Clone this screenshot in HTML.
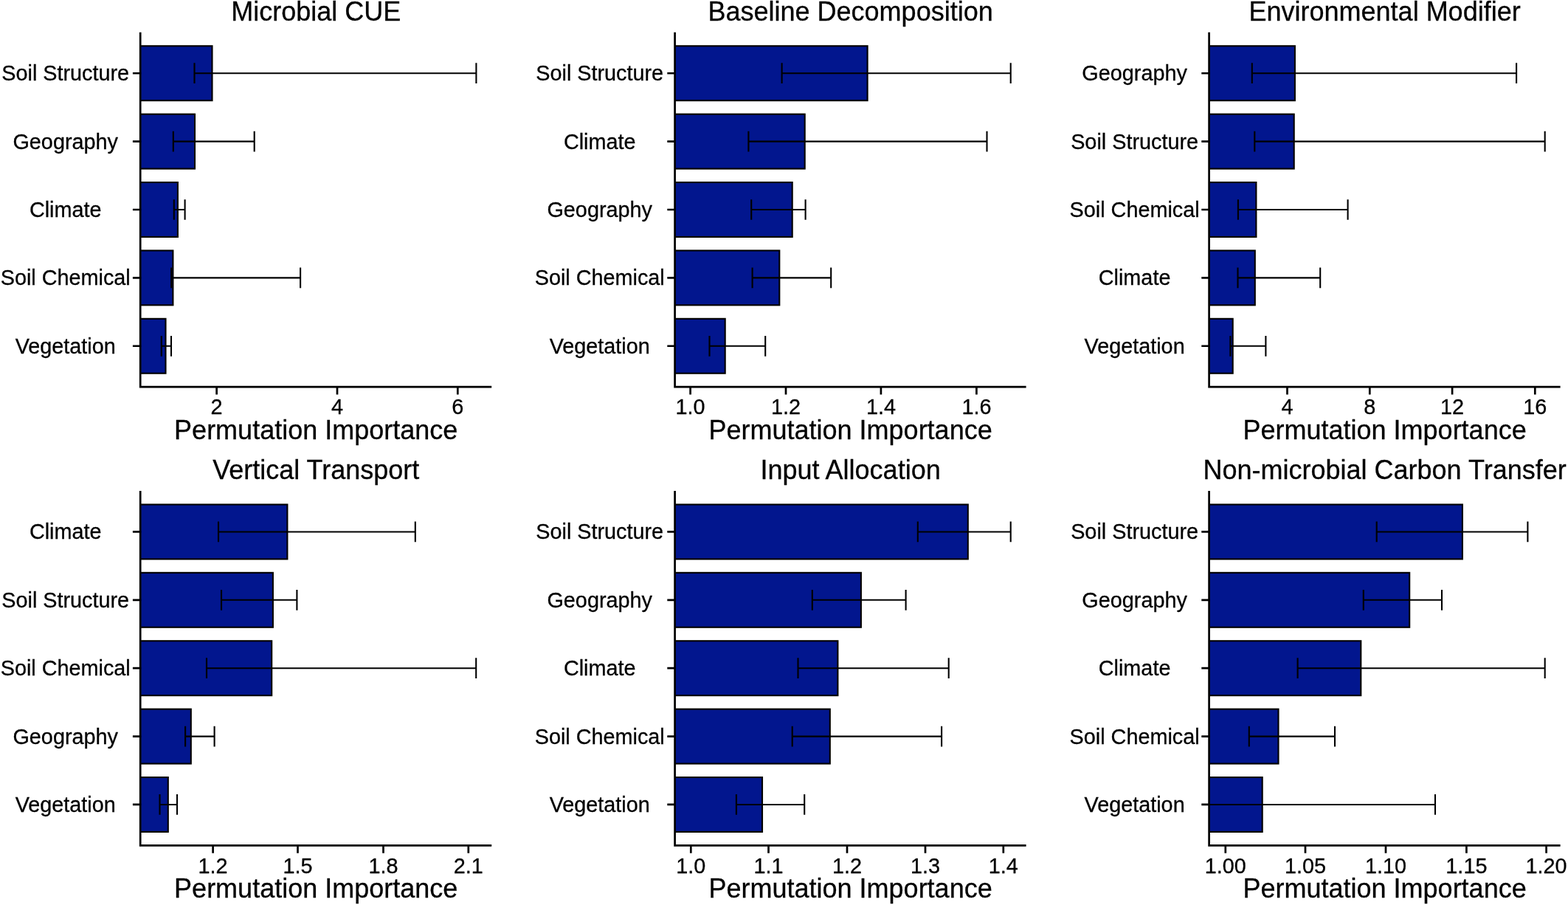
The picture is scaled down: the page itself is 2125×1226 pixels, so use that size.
<!DOCTYPE html>
<html><head><meta charset="utf-8"><title>Permutation Importance</title>
<style>
html,body{margin:0;padding:0;background:#fff;}
body{width:2125px;height:1226px;overflow:hidden;}
svg{display:block;}
text{font-family:"Liberation Sans",Arial,Helvetica,sans-serif;fill:#000;stroke:#000;stroke-width:0.3px;}
.t{font-size:36px;text-anchor:middle;}
.a{font-size:28.8px;text-anchor:middle;}
.k{font-size:28.8px;text-anchor:middle;}
</style></head><body>
<svg width="2125" height="1226" viewBox="0 0 2125 1226">
<rect x="0" y="0" width="2125" height="1226" fill="#fff"/>
<defs>
<clipPath id="c0"><rect x="190.2" y="43.8" width="476" height="480.4"/></clipPath>
<clipPath id="c1"><rect x="914.6" y="43.8" width="476" height="480.4"/></clipPath>
<clipPath id="c2"><rect x="1638.6" y="43.8" width="476" height="480.4"/></clipPath>
<clipPath id="c3"><rect x="190.2" y="665" width="476" height="480.4"/></clipPath>
<clipPath id="c4"><rect x="914.6" y="665" width="476" height="480.4"/></clipPath>
<clipPath id="c5"><rect x="1638.6" y="665" width="476" height="480.4"/></clipPath>
</defs>
<g>
<g clip-path="url(#c0)">
<rect x="186.2" y="62.28" width="101.3" height="73.91" fill="#02168E" stroke="#000" stroke-width="2.1"/>
<rect x="186.2" y="154.66" width="77.8" height="73.91" fill="#02168E" stroke="#000" stroke-width="2.1"/>
<rect x="186.2" y="247.05" width="54.7" height="73.91" fill="#02168E" stroke="#000" stroke-width="2.1"/>
<rect x="186.2" y="339.43" width="48.2" height="73.91" fill="#02168E" stroke="#000" stroke-width="2.1"/>
<rect x="186.2" y="431.82" width="38.3" height="73.91" fill="#02168E" stroke="#000" stroke-width="2.1"/>
<path d="M263.5 99.23H645.4M263.5 85.37V113.09M645.4 85.37V113.09" fill="none" stroke="#000" stroke-width="2.1"/>
<path d="M234.8 191.62H344.7M234.8 177.76V205.47M344.7 177.76V205.47" fill="none" stroke="#000" stroke-width="2.1"/>
<path d="M235.8 284H250.6M235.8 270.14V297.86M250.6 270.14V297.86" fill="none" stroke="#000" stroke-width="2.1"/>
<path d="M232.2 376.38H407.1M232.2 362.53V390.24M407.1 362.53V390.24" fill="none" stroke="#000" stroke-width="2.1"/>
<path d="M218.8 468.77H232M218.8 454.91V482.63M232 454.91V482.63" fill="none" stroke="#000" stroke-width="2.1"/>
</g>
<path d="M190.2 43.8V524.2H666.2" fill="none" stroke="#000" stroke-width="2.7" stroke-linejoin="miter" stroke-linecap="butt"/>
<path d="M179.9 99.23H190.2M179.9 191.62H190.2M179.9 284H190.2M179.9 376.38H190.2M179.9 468.77H190.2M293.6 524.2V534.5M457 524.2V534.5M620.3 524.2V534.5" fill="none" stroke="#000" stroke-width="2.7"/>
<text class="a" x="88.7" y="109.23">Soil Structure</text>
<text class="a" x="88.7" y="201.62">Geography</text>
<text class="a" x="88.7" y="294">Climate</text>
<text class="a" x="88.7" y="386.38">Soil Chemical</text>
<text class="a" x="88.7" y="478.77">Vegetation</text>
<text class="k" x="293.6" y="561.3">2</text>
<text class="k" x="457" y="561.3">4</text>
<text class="k" x="620.3" y="561.3">6</text>
<text class="t" x="428.2" y="594.6">Permutation Importance</text>
<text class="t" x="428.2" y="27.6">Microbial CUE</text>
</g>
<g>
<g clip-path="url(#c1)">
<rect x="910.6" y="62.28" width="265" height="73.91" fill="#02168E" stroke="#000" stroke-width="2.1"/>
<rect x="910.6" y="154.66" width="180.1" height="73.91" fill="#02168E" stroke="#000" stroke-width="2.1"/>
<rect x="910.6" y="247.05" width="163.1" height="73.91" fill="#02168E" stroke="#000" stroke-width="2.1"/>
<rect x="910.6" y="339.43" width="145.7" height="73.91" fill="#02168E" stroke="#000" stroke-width="2.1"/>
<rect x="910.6" y="431.82" width="72.1" height="73.91" fill="#02168E" stroke="#000" stroke-width="2.1"/>
<path d="M1059.6 99.23H1369.7M1059.6 85.37V113.09M1369.7 85.37V113.09" fill="none" stroke="#000" stroke-width="2.1"/>
<path d="M1014.4 191.62H1337.5M1014.4 177.76V205.47M1337.5 177.76V205.47" fill="none" stroke="#000" stroke-width="2.1"/>
<path d="M1018.2 284H1091.6M1018.2 270.14V297.86M1091.6 270.14V297.86" fill="none" stroke="#000" stroke-width="2.1"/>
<path d="M1019.6 376.38H1126.2M1019.6 362.53V390.24M1126.2 362.53V390.24" fill="none" stroke="#000" stroke-width="2.1"/>
<path d="M961.5 468.77H1037.2M961.5 454.91V482.63M1037.2 454.91V482.63" fill="none" stroke="#000" stroke-width="2.1"/>
</g>
<path d="M914.6 43.8V524.2H1390.6" fill="none" stroke="#000" stroke-width="2.7" stroke-linejoin="miter" stroke-linecap="butt"/>
<path d="M904.3 99.23H914.6M904.3 191.62H914.6M904.3 284H914.6M904.3 376.38H914.6M904.3 468.77H914.6M935.6 524.2V534.5M1065 524.2V534.5M1193.9 524.2V534.5M1323.4 524.2V534.5" fill="none" stroke="#000" stroke-width="2.7"/>
<text class="a" x="812.7" y="109.23">Soil Structure</text>
<text class="a" x="812.7" y="201.62">Climate</text>
<text class="a" x="812.7" y="294">Geography</text>
<text class="a" x="812.7" y="386.38">Soil Chemical</text>
<text class="a" x="812.7" y="478.77">Vegetation</text>
<text class="k" x="935.6" y="561.3">1.0</text>
<text class="k" x="1065" y="561.3">1.2</text>
<text class="k" x="1193.9" y="561.3">1.4</text>
<text class="k" x="1323.4" y="561.3">1.6</text>
<text class="t" x="1152.6" y="594.6">Permutation Importance</text>
<text class="t" x="1152.6" y="27.6">Baseline Decomposition</text>
</g>
<g>
<g clip-path="url(#c2)">
<rect x="1634.6" y="62.28" width="120.3" height="73.91" fill="#02168E" stroke="#000" stroke-width="2.1"/>
<rect x="1634.6" y="154.66" width="119.1" height="73.91" fill="#02168E" stroke="#000" stroke-width="2.1"/>
<rect x="1634.6" y="247.05" width="67.8" height="73.91" fill="#02168E" stroke="#000" stroke-width="2.1"/>
<rect x="1634.6" y="339.43" width="66.2" height="73.91" fill="#02168E" stroke="#000" stroke-width="2.1"/>
<rect x="1634.6" y="431.82" width="36.1" height="73.91" fill="#02168E" stroke="#000" stroke-width="2.1"/>
<path d="M1696.8 99.23H2055.1M1696.8 85.37V113.09M2055.1 85.37V113.09" fill="none" stroke="#000" stroke-width="2.1"/>
<path d="M1700.3 191.62H2093.7M1700.3 177.76V205.47M2093.7 177.76V205.47" fill="none" stroke="#000" stroke-width="2.1"/>
<path d="M1677.9 284H1826.6M1677.9 270.14V297.86M1826.6 270.14V297.86" fill="none" stroke="#000" stroke-width="2.1"/>
<path d="M1677.5 376.38H1789.2M1677.5 362.53V390.24M1789.2 362.53V390.24" fill="none" stroke="#000" stroke-width="2.1"/>
<path d="M1667.4 468.77H1715.4M1667.4 454.91V482.63M1715.4 454.91V482.63" fill="none" stroke="#000" stroke-width="2.1"/>
</g>
<path d="M1638.6 43.8V524.2H2114.6" fill="none" stroke="#000" stroke-width="2.7" stroke-linejoin="miter" stroke-linecap="butt"/>
<path d="M1628.3 99.23H1638.6M1628.3 191.62H1638.6M1628.3 284H1638.6M1628.3 376.38H1638.6M1628.3 468.77H1638.6M1744.5 524.2V534.5M1856.3 524.2V534.5M1968.1 524.2V534.5M2080.3 524.2V534.5" fill="none" stroke="#000" stroke-width="2.7"/>
<text class="a" x="1537.6" y="109.23">Geography</text>
<text class="a" x="1537.6" y="201.62">Soil Structure</text>
<text class="a" x="1537.6" y="294">Soil Chemical</text>
<text class="a" x="1537.6" y="386.38">Climate</text>
<text class="a" x="1537.6" y="478.77">Vegetation</text>
<text class="k" x="1744.5" y="561.3">4</text>
<text class="k" x="1856.3" y="561.3">8</text>
<text class="k" x="1968.1" y="561.3">12</text>
<text class="k" x="2080.3" y="561.3">16</text>
<text class="t" x="1876.6" y="594.6">Permutation Importance</text>
<text class="t" x="1876.6" y="27.6">Environmental Modifier</text>
</g>
<g>
<g clip-path="url(#c3)">
<rect x="186.2" y="683.48" width="203.2" height="73.91" fill="#02168E" stroke="#000" stroke-width="2.1"/>
<rect x="186.2" y="775.86" width="183.7" height="73.91" fill="#02168E" stroke="#000" stroke-width="2.1"/>
<rect x="186.2" y="868.25" width="182" height="73.91" fill="#02168E" stroke="#000" stroke-width="2.1"/>
<rect x="186.2" y="960.63" width="72.6" height="73.91" fill="#02168E" stroke="#000" stroke-width="2.1"/>
<rect x="186.2" y="1053.02" width="41.6" height="73.91" fill="#02168E" stroke="#000" stroke-width="2.1"/>
<path d="M296 720.43H562.8M296 706.57V734.29M562.8 706.57V734.29" fill="none" stroke="#000" stroke-width="2.1"/>
<path d="M300 812.82H402.4M300 798.96V826.67M402.4 798.96V826.67" fill="none" stroke="#000" stroke-width="2.1"/>
<path d="M280 905.2H645.2M280 891.34V919.06M645.2 891.34V919.06" fill="none" stroke="#000" stroke-width="2.1"/>
<path d="M251.1 997.58H290.6M251.1 983.73V1011.44M290.6 983.73V1011.44" fill="none" stroke="#000" stroke-width="2.1"/>
<path d="M216.5 1089.97H240M216.5 1076.11V1103.83M240 1076.11V1103.83" fill="none" stroke="#000" stroke-width="2.1"/>
</g>
<path d="M190.2 665V1145.4H666.2" fill="none" stroke="#000" stroke-width="2.7" stroke-linejoin="miter" stroke-linecap="butt"/>
<path d="M179.9 720.43H190.2M179.9 812.82H190.2M179.9 905.2H190.2M179.9 997.58H190.2M179.9 1089.97H190.2M288.6 1145.4V1155.7M403.5 1145.4V1155.7M519.5 1145.4V1155.7M634.8 1145.4V1155.7" fill="none" stroke="#000" stroke-width="2.7"/>
<text class="a" x="88.7" y="730.43">Climate</text>
<text class="a" x="88.7" y="822.82">Soil Structure</text>
<text class="a" x="88.7" y="915.2">Soil Chemical</text>
<text class="a" x="88.7" y="1007.58">Geography</text>
<text class="a" x="88.7" y="1099.97">Vegetation</text>
<text class="k" x="288.6" y="1182.5">1.2</text>
<text class="k" x="403.5" y="1182.5">1.5</text>
<text class="k" x="519.5" y="1182.5">1.8</text>
<text class="k" x="634.8" y="1182.5">2.1</text>
<text class="t" x="428.2" y="1215.8">Permutation Importance</text>
<text class="t" x="428.2" y="648.8">Vertical Transport</text>
</g>
<g>
<g clip-path="url(#c4)">
<rect x="910.6" y="683.48" width="401.2" height="73.91" fill="#02168E" stroke="#000" stroke-width="2.1"/>
<rect x="910.6" y="775.86" width="256.3" height="73.91" fill="#02168E" stroke="#000" stroke-width="2.1"/>
<rect x="910.6" y="868.25" width="224.8" height="73.91" fill="#02168E" stroke="#000" stroke-width="2.1"/>
<rect x="910.6" y="960.63" width="214.2" height="73.91" fill="#02168E" stroke="#000" stroke-width="2.1"/>
<rect x="910.6" y="1053.02" width="122.4" height="73.91" fill="#02168E" stroke="#000" stroke-width="2.1"/>
<path d="M1243.8 720.43H1369.7M1243.8 706.57V734.29M1369.7 706.57V734.29" fill="none" stroke="#000" stroke-width="2.1"/>
<path d="M1100.8 812.82H1227.6M1100.8 798.96V826.67M1227.6 798.96V826.67" fill="none" stroke="#000" stroke-width="2.1"/>
<path d="M1081.5 905.2H1285.7M1081.5 891.34V919.06M1285.7 891.34V919.06" fill="none" stroke="#000" stroke-width="2.1"/>
<path d="M1073.7 997.58H1276.1M1073.7 983.73V1011.44M1276.1 983.73V1011.44" fill="none" stroke="#000" stroke-width="2.1"/>
<path d="M997.9 1089.97H1090.2M997.9 1076.11V1103.83M1090.2 1076.11V1103.83" fill="none" stroke="#000" stroke-width="2.1"/>
</g>
<path d="M914.6 665V1145.4H1390.6" fill="none" stroke="#000" stroke-width="2.7" stroke-linejoin="miter" stroke-linecap="butt"/>
<path d="M904.3 720.43H914.6M904.3 812.82H914.6M904.3 905.2H914.6M904.3 997.58H914.6M904.3 1089.97H914.6M936.3 1145.4V1155.7M1041.5 1145.4V1155.7M1148 1145.4V1155.7M1254 1145.4V1155.7M1359.8 1145.4V1155.7" fill="none" stroke="#000" stroke-width="2.7"/>
<text class="a" x="812.7" y="730.43">Soil Structure</text>
<text class="a" x="812.7" y="822.82">Geography</text>
<text class="a" x="812.7" y="915.2">Climate</text>
<text class="a" x="812.7" y="1007.58">Soil Chemical</text>
<text class="a" x="812.7" y="1099.97">Vegetation</text>
<text class="k" x="936.3" y="1182.5">1.0</text>
<text class="k" x="1041.5" y="1182.5">1.1</text>
<text class="k" x="1148" y="1182.5">1.2</text>
<text class="k" x="1254" y="1182.5">1.3</text>
<text class="k" x="1359.8" y="1182.5">1.4</text>
<text class="t" x="1152.6" y="1215.8">Permutation Importance</text>
<text class="t" x="1152.6" y="648.8">Input Allocation</text>
</g>
<g>
<g clip-path="url(#c5)">
<rect x="1634.6" y="683.48" width="347.3" height="73.91" fill="#02168E" stroke="#000" stroke-width="2.1"/>
<rect x="1634.6" y="775.86" width="275.6" height="73.91" fill="#02168E" stroke="#000" stroke-width="2.1"/>
<rect x="1634.6" y="868.25" width="209.7" height="73.91" fill="#02168E" stroke="#000" stroke-width="2.1"/>
<rect x="1634.6" y="960.63" width="97.9" height="73.91" fill="#02168E" stroke="#000" stroke-width="2.1"/>
<rect x="1634.6" y="1053.02" width="76.1" height="73.91" fill="#02168E" stroke="#000" stroke-width="2.1"/>
<path d="M1865.7 720.43H2070.4M1865.7 706.57V734.29M2070.4 706.57V734.29" fill="none" stroke="#000" stroke-width="2.1"/>
<path d="M1847.8 812.82H1954M1847.8 798.96V826.67M1954 798.96V826.67" fill="none" stroke="#000" stroke-width="2.1"/>
<path d="M1758.6 905.2H2093.7M1758.6 891.34V919.06M2093.7 891.34V919.06" fill="none" stroke="#000" stroke-width="2.1"/>
<path d="M1692.8 997.58H1809M1692.8 983.73V1011.44M1809 983.73V1011.44" fill="none" stroke="#000" stroke-width="2.1"/>
<path d="M1620 1089.97H1945M1620 1076.11V1103.83M1945 1076.11V1103.83" fill="none" stroke="#000" stroke-width="2.1"/>
</g>
<path d="M1638.6 665V1145.4H2114.6" fill="none" stroke="#000" stroke-width="2.7" stroke-linejoin="miter" stroke-linecap="butt"/>
<path d="M1628.3 720.43H1638.6M1628.3 812.82H1638.6M1628.3 905.2H1638.6M1628.3 997.58H1638.6M1628.3 1089.97H1638.6M1660.8 1145.4V1155.7M1769 1145.4V1155.7M1878 1145.4V1155.7M1987.4 1145.4V1155.7M2095.6 1145.4V1155.7" fill="none" stroke="#000" stroke-width="2.7"/>
<text class="a" x="1537.6" y="730.43">Soil Structure</text>
<text class="a" x="1537.6" y="822.82">Geography</text>
<text class="a" x="1537.6" y="915.2">Climate</text>
<text class="a" x="1537.6" y="1007.58">Soil Chemical</text>
<text class="a" x="1537.6" y="1099.97">Vegetation</text>
<text class="k" x="1660.8" y="1182.5">1.00</text>
<text class="k" x="1769" y="1182.5">1.05</text>
<text class="k" x="1878" y="1182.5">1.10</text>
<text class="k" x="1987.4" y="1182.5">1.15</text>
<text class="k" x="2095.6" y="1182.5">1.20</text>
<text class="t" x="1876.6" y="1215.8">Permutation Importance</text>
<text class="t" x="1876.6" y="648.8">Non-microbial Carbon Transfer</text>
</g>
</svg>
</body></html>
